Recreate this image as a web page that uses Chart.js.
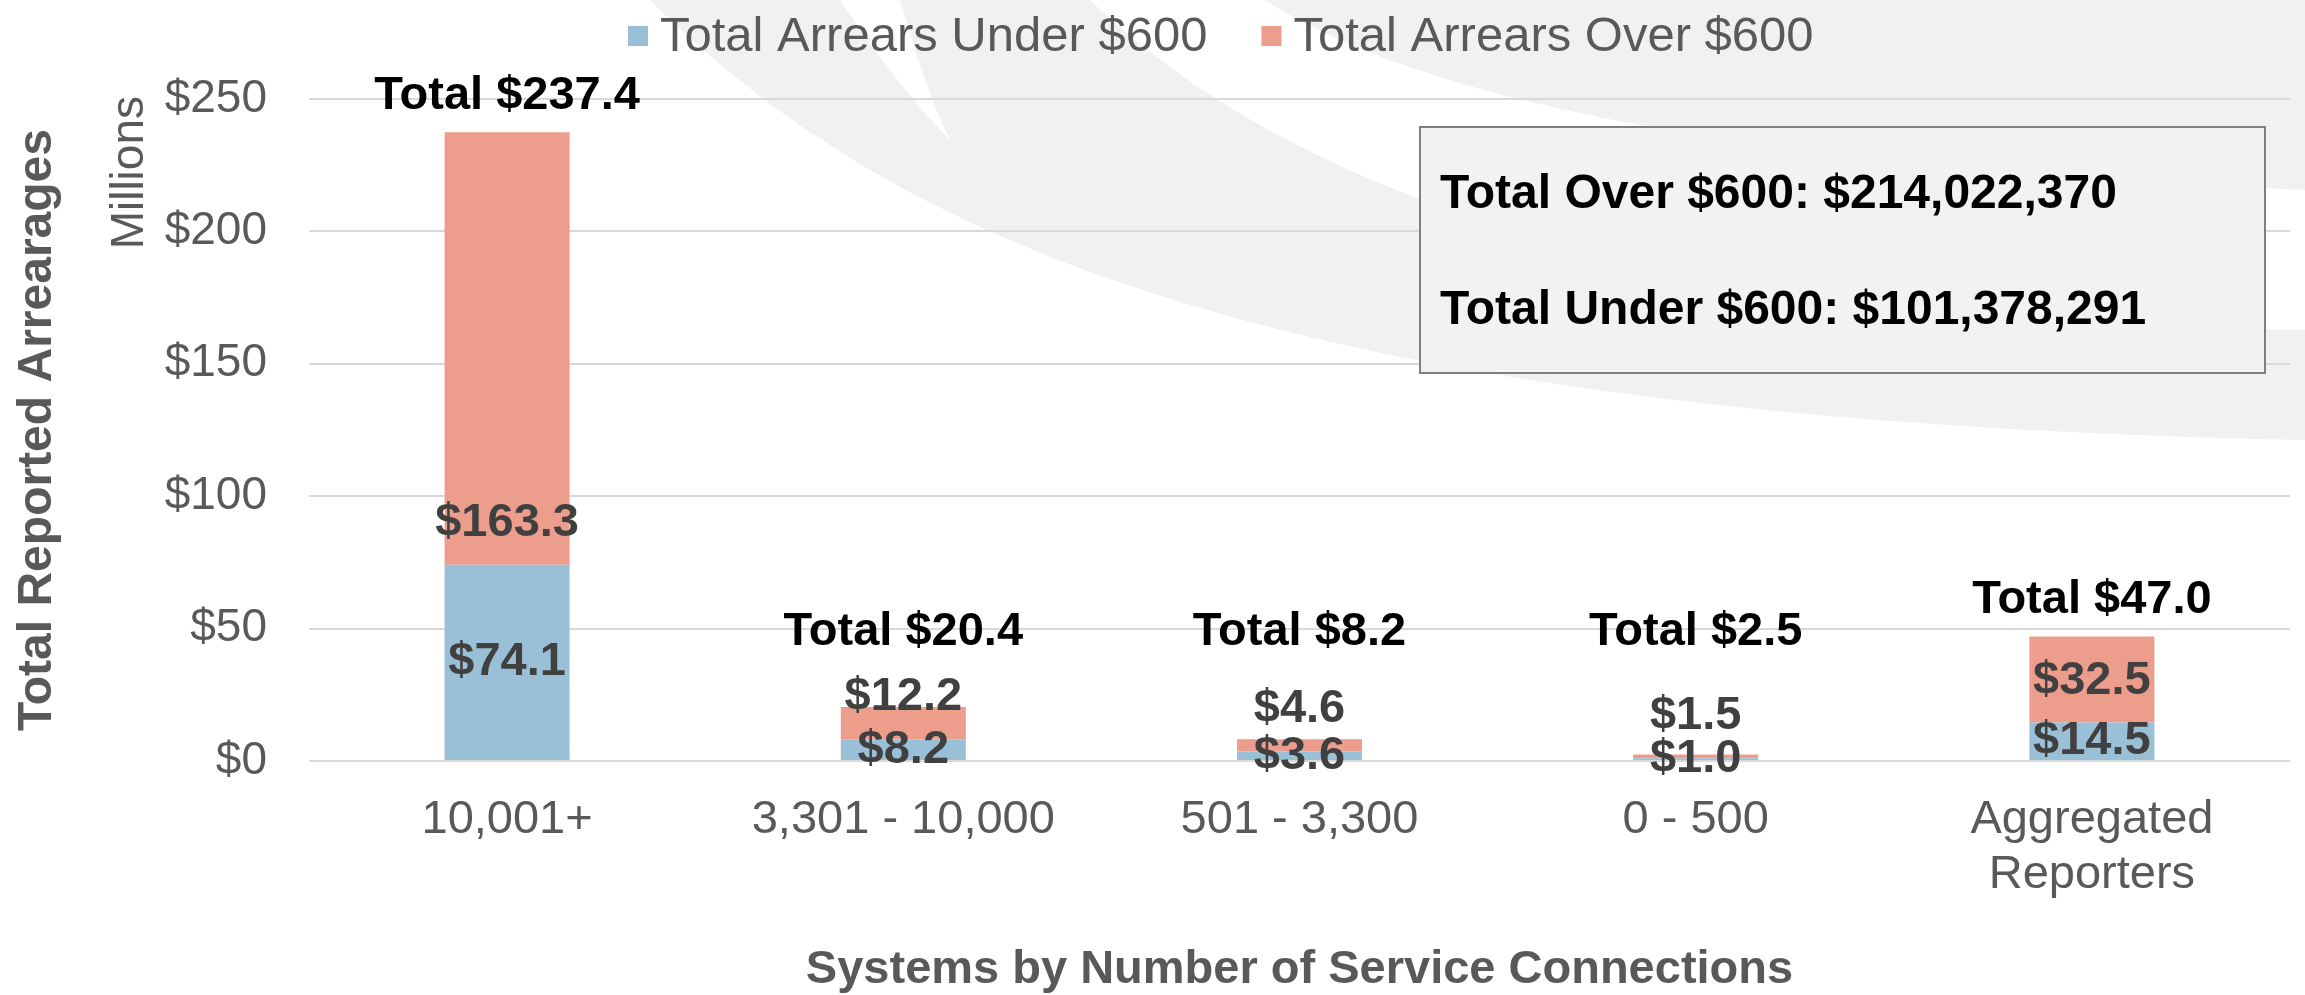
<!DOCTYPE html>
<html>
<head>
<meta charset="utf-8">
<script src="https://cdn.jsdelivr.net/npm/chart.js@4.4.1/dist/chart.umd.min.js"></script>
<style>
  html, body { margin: 0; padding: 0; background: #fff; }
  #wrap { width: 2305px; height: 995px; position: relative; }
</style>
</head>
<body>
<div id="wrap"><canvas id="chart"></canvas></div>
<script>
const categories = [["10,001+"], ["3,301 - 10,000"], ["501 - 3,300"], ["0 - 500"], ["Aggregated", "Reporters"]];
const underValues = [74.1, 8.2, 3.6, 1.0, 14.5];
const overValues = [163.3, 12.2, 4.6, 1.5, 32.5];
const totalValues = [237.4, 20.4, 8.2, 2.5, 47.0];
const yTicks = [0, 50, 100, 150, 200, 250];
const seriesNames = ["Total Arrears Under $600", "Total Arrears Over $600"];
const boxLines = ["Total Over $600: $214,022,370", "Total Under $600: $101,378,291"];

const BLUE = "#9AC0D8";
const ORANGE = "#ED9D8B";
const GREY_TEXT = "#595959";
const FONT = "'Liberation Sans', Arial, sans-serif";

const money = (v) => "$" + v.toFixed(1);

// background swoosh, legend, note box, data labels
const decor = {
  id: "decor",
  beforeDraw(chart) {
    const ctx = chart.ctx;
    ctx.save();
    ctx.fillStyle = "#fff";
    ctx.fillRect(0, 0, chart.width, chart.height);
    ctx.fillStyle = "#f1f1f3";
    ctx.beginPath();
    ctx.moveTo(650, 0);
    ctx.bezierCurveTo(900, 250, 1300, 420, 2305, 440);
    ctx.lineTo(2305, 0);
    ctx.closePath();
    ctx.fill();
    ctx.fillStyle = "#fff";
    ctx.beginPath();
    ctx.moveTo(1090, 0);
    ctx.bezierCurveTo(1350, 250, 1800, 320, 2305, 330);
    ctx.lineTo(2305, 190);
    ctx.bezierCurveTo(1850, 170, 1450, 120, 1265, 0);
    ctx.closePath();
    ctx.fill();
    ctx.beginPath();
    ctx.moveTo(840, 0);
    ctx.bezierCurveTo(880, 60, 920, 110, 950, 140);
    ctx.bezierCurveTo(930, 100, 915, 50, 900, 0);
    ctx.closePath();
    ctx.fill();
    ctx.restore();
  },
  afterDraw(chart) {
    const ctx = chart.ctx;
    const y = chart.scales.y;
    ctx.save();

    // legend
    ctx.font = "49px " + FONT;
    ctx.textBaseline = "middle";
    ctx.textAlign = "left";
    let lx = 628;
    seriesNames.forEach((name, i) => {
      ctx.fillStyle = chart.data.datasets[i].backgroundColor;
      ctx.fillRect(lx, 26, 20, 20);
      ctx.fillStyle = GREY_TEXT;
      ctx.fillText(name, lx + 32, 37);
      lx += 32 + ctx.measureText(name).width + 54;
    });

    // Millions unit label
    ctx.save();
    ctx.translate(143, 96);
    ctx.rotate(-Math.PI / 2);
    ctx.font = "46px " + FONT;
    ctx.textAlign = "right";
    ctx.textBaseline = "alphabetic";
    ctx.fillStyle = GREY_TEXT;
    ctx.fillText("Millions", 0, 0);
    ctx.restore();

    // note box
    ctx.fillStyle = "#f2f2f2";
    ctx.fillRect(1420, 127, 845, 246);
    ctx.strokeStyle = "#7f7f7f";
    ctx.lineWidth = 2;
    ctx.strokeRect(1420, 127, 845, 246);
    ctx.fillStyle = "#000";
    ctx.font = "bold 48px " + FONT;
    ctx.textBaseline = "alphabetic";
    ctx.fillText(boxLines[0], 1440, 208);
    ctx.fillText(boxLines[1], 1440, 324);

    // data labels
    const under = chart.getDatasetMeta(0).data;
    const over = chart.getDatasetMeta(1).data;
    ctx.textAlign = "center";
    ctx.textBaseline = "middle";
    ctx.font = "bold 47px " + FONT;
    under.forEach((bar, i) => {
      ctx.fillStyle = "#404040";
      ctx.fillText(money(underValues[i]), bar.x, (bar.y + bar.base) / 2);
      const ob = over[i];
      ctx.fillText(money(overValues[i]), ob.x, ob.base - 42);
      ctx.fillStyle = "#000";
      const ty = Math.min(y.getPixelForValue(totalValues[i]) - 36, 632);
      ctx.fillText("Total " + money(totalValues[i]), ob.x, ty);
    });
    ctx.restore();
  }
};

new Chart(document.getElementById("chart"), {
  type: "bar",
  data: {
    labels: categories,
    datasets: [
      { label: seriesNames[0], data: underValues, backgroundColor: BLUE, borderWidth: 0 },
      { label: seriesNames[1], data: overValues, backgroundColor: ORANGE, borderWidth: 0 }
    ]
  },
  options: {
    responsive: true,
    maintainAspectRatio: false,
    animation: false,
    layout: { padding: { top: 99, right: 15, left: 0, bottom: 0 } },
    datasets: { bar: { categoryPercentage: 1, barPercentage: 0.3155 } },
    plugins: {
      legend: { display: false },
      tooltip: { enabled: false }
    },
    scales: {
      x: {
        stacked: true,
        grid: { display: false, drawTicks: false },
        border: { display: false },
        ticks: {
          color: GREY_TEXT,
          padding: 31,
          font: { family: FONT, size: 47, lineHeight: 1.18 }
        },
        title: {
          display: true,
          text: "Systems by Number of Service Connections",
          color: GREY_TEXT,
          font: { family: FONT, size: 47, weight: "bold", lineHeight: 1 },
          padding: { top: 0, bottom: 1 }
        },
        afterFit: (scale) => { scale.height = 234; }
      },
      y: {
        stacked: true,
        min: 0,
        max: 250,
        afterBuildTicks: (scale) => { scale.ticks = yTicks.map((v) => ({ value: v })); },
        grid: { color: "#d9d9d9", lineWidth: 2, drawTicks: false },
        border: { display: false },
        ticks: {
          color: GREY_TEXT,
          padding: 42,
          font: { family: FONT, size: 46 },
          callback: (v) => "$" + v
        },
        title: {
          display: true,
          text: "Total Reported Arrearages",
          color: GREY_TEXT,
          font: { family: FONT, size: 48, weight: "bold", lineHeight: 1 },
          padding: { top: 14, bottom: 0 }
        },
        afterFit: (scale) => { scale.width = 309; }
      }
    }
  },
  plugins: [decor]
});
</script>
</body>
</html>
